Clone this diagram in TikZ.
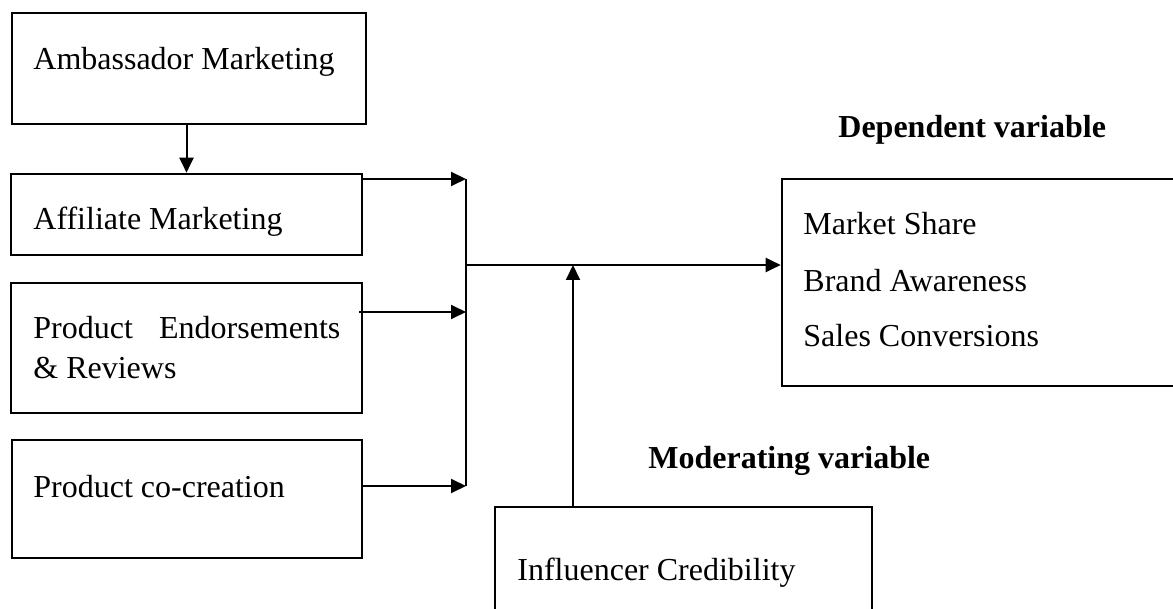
\documentclass[tikz,border=0pt]{standalone}
\usepackage{fontspec}
\setmainfont{Liberation Serif}
\usetikzlibrary{arrows.meta,fit}
\begin{document}
\begin{tikzpicture}[x=0.5pt,y=-0.5pt,
  box/.style={draw,line width=1.3pt,inner sep=0pt,rectangle},
  lbl/.style={anchor=base west,inner sep=0pt,font=\fontsize{16}{20}\selectfont},
  hdr/.style={anchor=base west,inner sep=0pt,font=\fontsize{16}{20}\selectfont\bfseries},
  link/.style={line width=1pt},
  arr/.style={line width=1pt,-{Triangle[length=7.5pt,width=7pt]}}]
\useasboundingbox (0,0) rectangle (1173,609);
\clip (0,0) rectangle (1173,609);
% boxes
\node[box,fit={(12,13) (366,124)}] (amb) {};
\node[box,fit={(11,174) (362,255)}] (aff) {};
\node[box,fit={(11,283) (362,413)}] (end) {};
\node[box,fit={(12,440) (362,558)}] (cc) {};
\node[box,fit={(782,179) (1195,386)}] (dep) {};
\node[box,fit={(495,507) (872,630)}] (inf) {};
% texts
\node[lbl] (tamb) at (33,70) {Ambassador Marketing};
\node[lbl] (taff) at (33,230) {Affiliate Marketing};
\node[lbl] (tend1) at (33,339) {\makebox[153.5pt][s]{Product Endorsements}};
\node[lbl] (tend2) at (33,379) {\& Reviews};
\node[lbl] (tcc) at (33,497) {Product co-creation};
\node[lbl] (tms) at (803,235) {Market Share};
\node[lbl] (tba) at (803,292) {Brand Awareness};
\node[lbl] (tsc) at (803,347) {Sales Conversions};
\node[lbl] (tinf) at (517,580) {Influencer Credibility};
\node[hdr] (hdep) at (838,138) {Dependent variable};
\node[hdr] (hmod) at (648,468) {Moderating variable};
% junction points
\coordinate (j1) at (466,179);
\coordinate (j3) at (466,312);
\coordinate (j2) at (466,486);
\coordinate (jm) at (466,265);
\coordinate (mm) at (573,265);
\coordinate (es) at (359,312);
% connectors
\draw[arr] (amb.south -| aff.north) -- (aff.north);
\draw[arr] (aff.east |- j1) -- (j1);
\draw[arr] (es) -- (j3);
\draw[arr] (cc.east |- j2) -- (j2);
\draw[link] (j1) -- (j2);
\draw[arr] (jm) -- (dep.west |- jm);
\draw[arr] (inf.north -| mm) -- (mm);
\end{tikzpicture}
\end{document}
